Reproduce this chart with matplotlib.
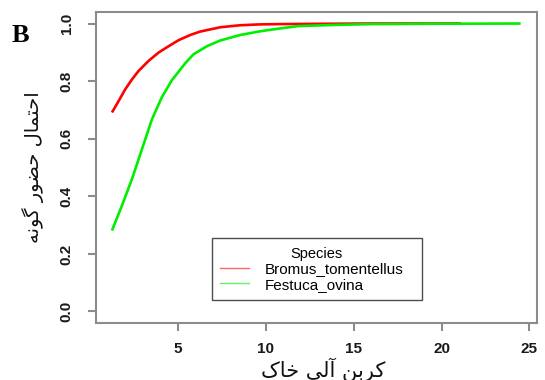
import matplotlib
matplotlib.use("Agg")
import matplotlib.pyplot as plt
from matplotlib.lines import Line2D

# Predicted presence probability against soil organic carbon
bromus_x = [1.23, 1.61, 1.99, 2.37, 2.74, 3.31, 3.88, 4.45, 5.02, 5.68, 6.25, 7.39,
            8.52, 9.66, 10.8, 13.0, 16.0, 18.5, 21.1]
bromus_y = [0.691, 0.731, 0.772, 0.806, 0.835, 0.870, 0.899, 0.921, 0.942, 0.960, 0.972, 0.987,
            0.994, 0.997, 0.998, 0.999, 1.0, 1.0, 1.0]

festuca_x = [1.23, 1.80, 2.37, 2.94, 3.51, 4.07, 4.64, 5.40, 5.87, 6.63, 7.39, 8.52,
             9.66, 10.8, 11.82, 13.8, 16.0, 19.0, 24.5]
festuca_y = [0.281, 0.368, 0.460, 0.564, 0.668, 0.744, 0.803, 0.862, 0.893, 0.921, 0.941, 0.960,
             0.973, 0.983, 0.991, 0.995, 0.998, 0.999, 1.0]

species = ["Bromus_tomentellus", "Festuca_ovina"]
colors = ["#ff0000", "#00ee00"]

x_ticks = [5, 10, 15, 20, 25]
y_ticks = [0.0, 0.2, 0.4, 0.6, 0.8, 1.0]
y_tick_labels = ["0.0", "0.2", "0.4", "0.6", "0.8", "1.0"]


def visual(chars):
    # Arabic presentation forms written in logical order, laid out right to left
    return "".join(reversed(chars))


# احتمال حضور گونه
ylabel = visual("\uFE8D\uFEA3\uFE98\uFEE4\uFE8E\uFEDD \uFEA3\uFEC0\uFEEE\uFEAD \uFB94\uFEEE\uFEE7\uFEEA")
# کربن آلی خاک
xlabel = visual("\uFB90\uFEAE\uFE91\uFEE6 \uFE81\uFEDF\uFBFD \uFEA7\uFE8E\uFB8E")

plt.rcParams["font.family"] = ["Liberation Sans", "DejaVu Sans"]

fig = plt.figure(figsize=(5.45, 3.8), dpi=100)
ax = fig.add_axes([0.1761, 0.15, 0.8092, 0.8184])

line_kw = dict(lw=1.9, solid_joinstyle="round", solid_capstyle="butt")
ax.plot(bromus_x, bromus_y, color=colors[0], **line_kw)
ax.plot(festuca_x, festuca_y, color=colors[1], **line_kw)

ax.set_xlim(0.32, 25.43)
ax.set_ylim(-0.04, 1.04)
ax.set_xticks(x_ticks)
ax.set_yticks(y_ticks)
ax.set_yticklabels(y_tick_labels, rotation=90, va="center")

for s in ax.spines.values():
    s.set_color("#8c8c8c")
    s.set_linewidth(1.5)
ax.tick_params(axis="both", colors="#8c8c8c", length=6, width=1.5,
               labelcolor="#1a1a1a", labelsize=11)
ax.tick_params(axis="x", pad=8)
ax.tick_params(axis="y", pad=10)
for lab in ax.get_xticklabels() + ax.get_yticklabels():
    lab.set_fontweight("bold")

# Axis titles in Persian
fig.text(0.593, 0.028, xlabel, family=["DejaVu Sans"], fontsize=15,
         ha="center", va="center", color="#111111")
ax.set_ylabel(ylabel, family=["DejaVu Sans"], fontsize=14, labelpad=11, color="#111111")

handles = [Line2D([], [], color=c, lw=1.0, alpha=0.6) for c in colors]
leg = ax.legend(handles, species, title="Species", loc="lower left",
                bbox_to_anchor=(0.263, 0.074, 0.476, 0.206), mode="expand",
                prop={"size": 11}, title_fontsize=10.5, frameon=True, fancybox=False,
                handlelength=1.9, handletextpad=1.0, borderpad=0.55,
                labelspacing=0.1, borderaxespad=0)
leg.get_frame().set_edgecolor("#222222")
leg.get_frame().set_linewidth(1.0)

fig.text(0.022, 0.889, "B", family="Liberation Serif", fontweight="bold", fontsize=19)

fig.savefig("out.png", dpi=100)
